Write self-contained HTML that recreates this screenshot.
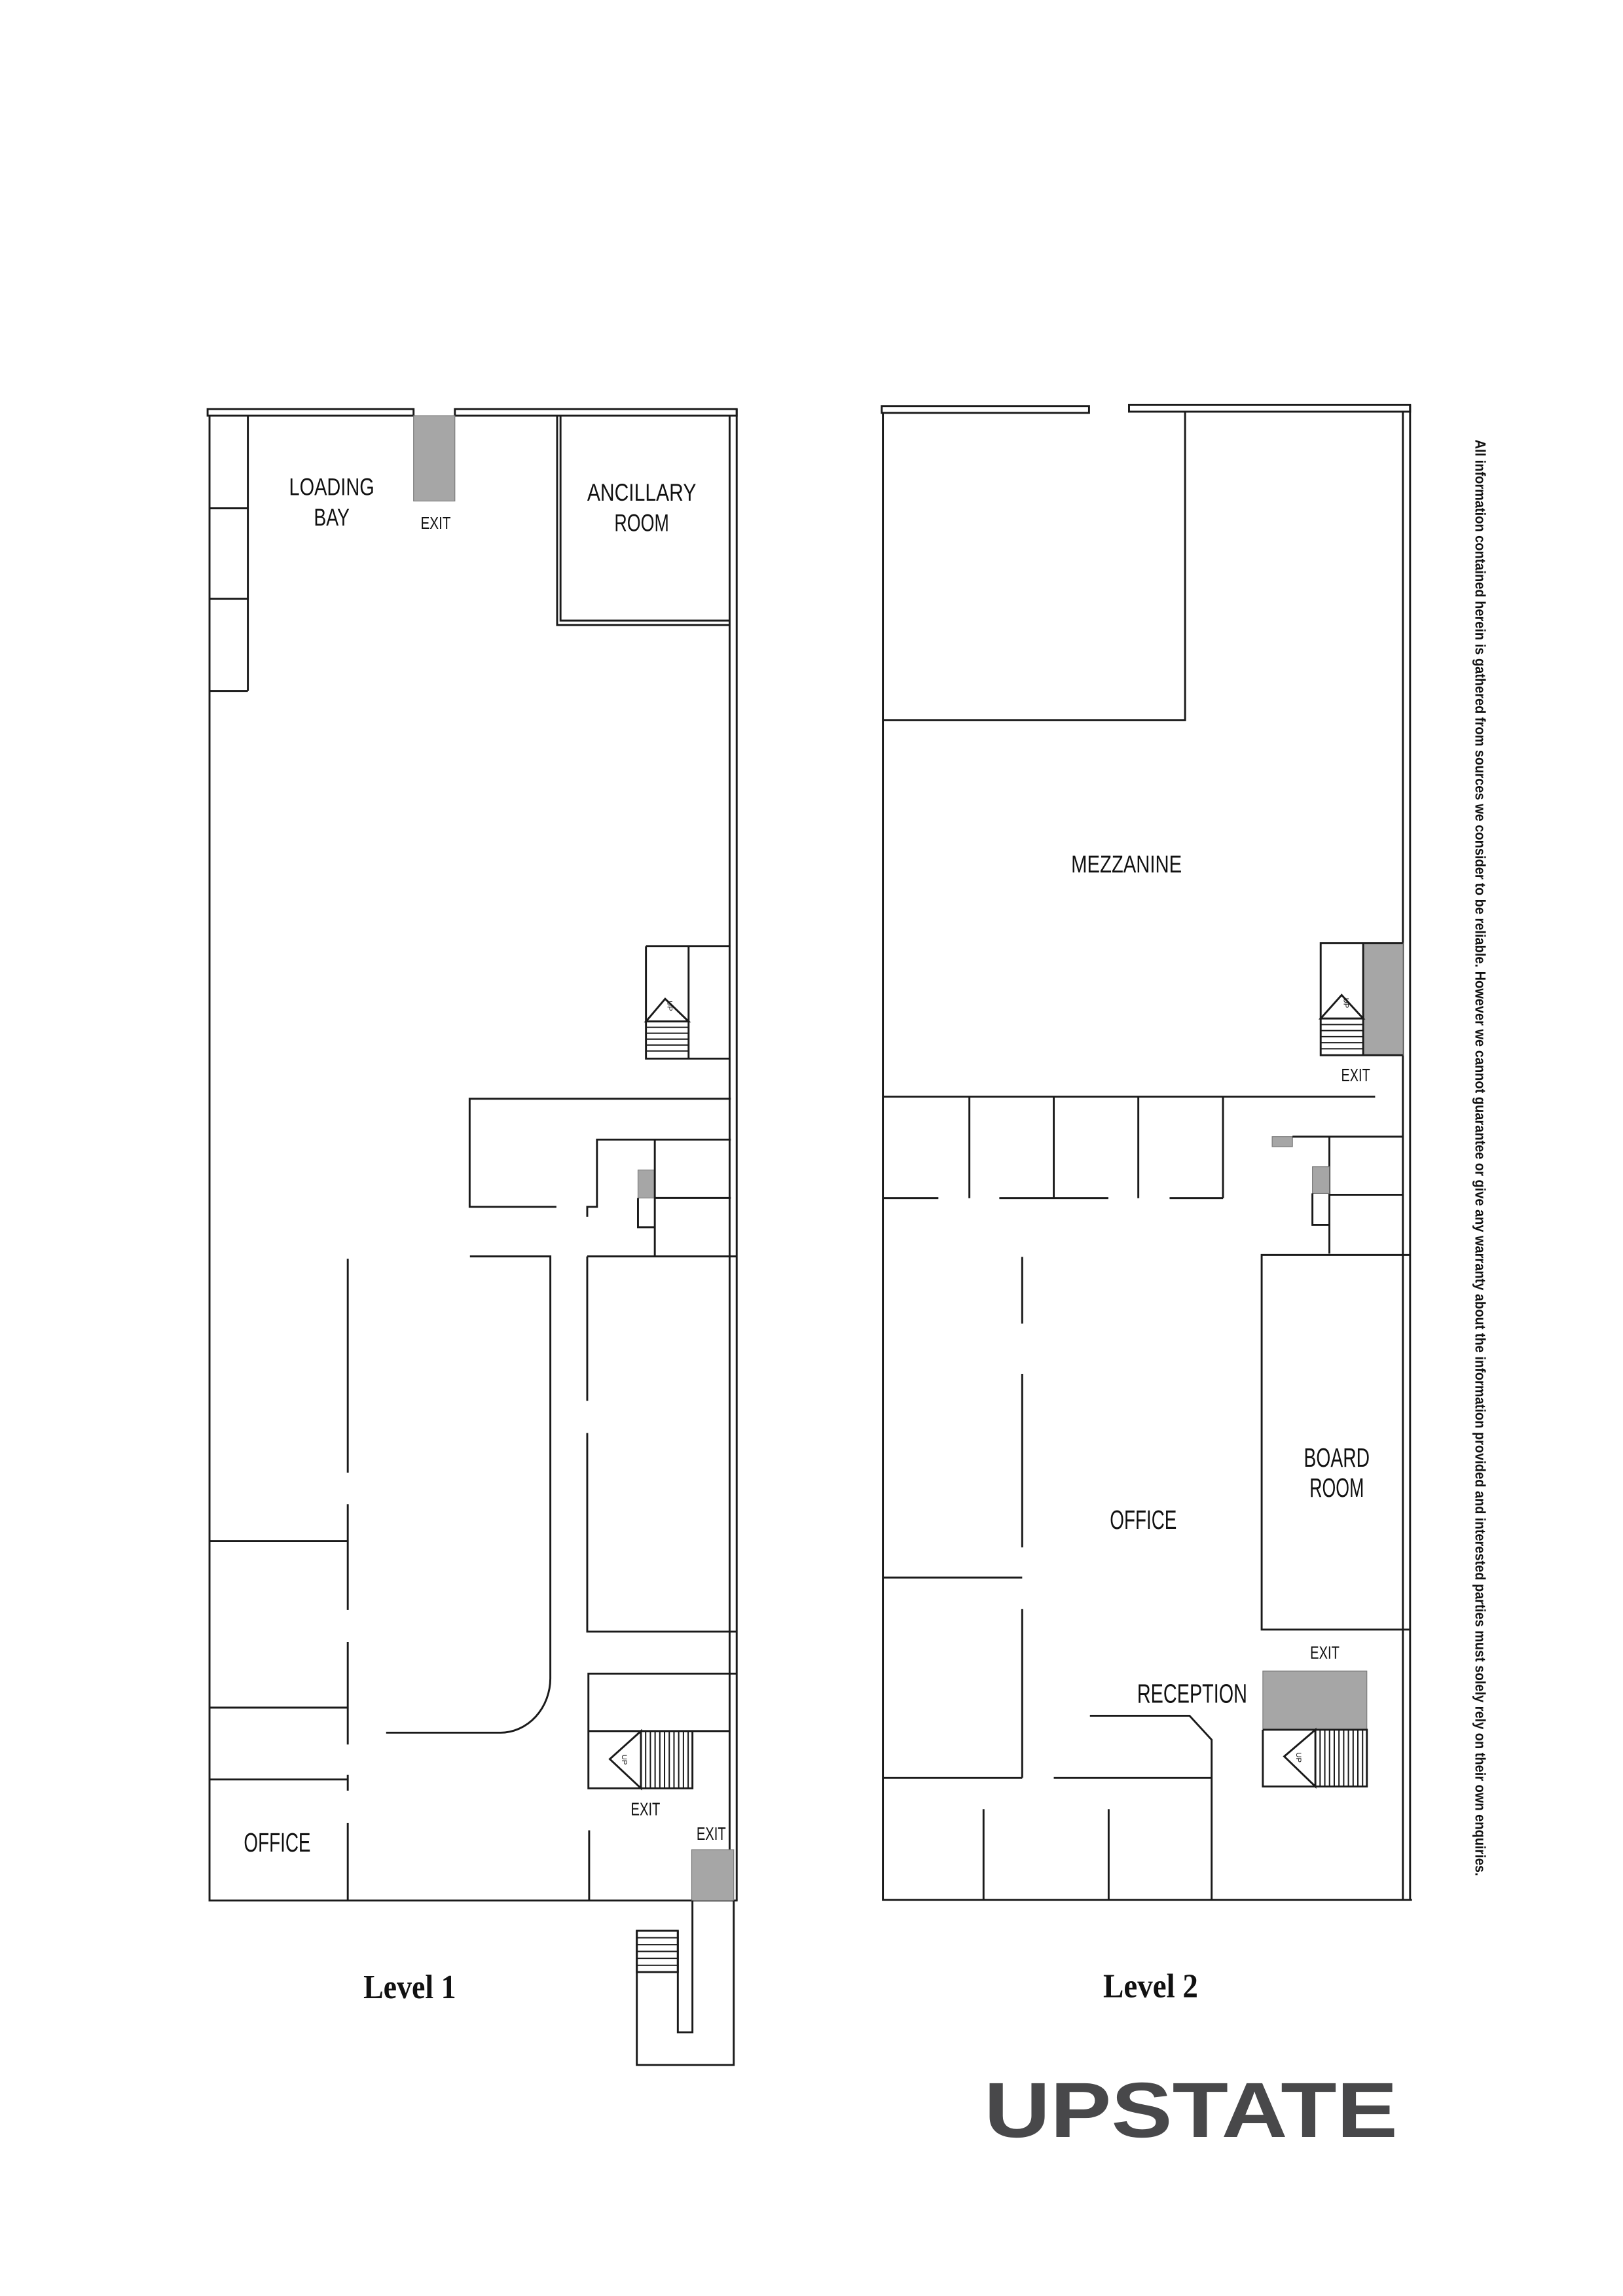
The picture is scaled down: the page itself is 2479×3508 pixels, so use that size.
<!DOCTYPE html>
<html><head><meta charset="utf-8"><style>
html,body{margin:0;padding:0;background:#fff;}
svg{display:block;}
.w{fill:none;stroke:#1a1a1a;stroke-width:1.3;}
.t{stroke:#1a1a1a;stroke-width:0.9;}
.g{fill:#a6a6a6;stroke:#777;stroke-width:0.5;}
.n{font-family:"Liberation Sans Narrow","Liberation Sans",sans-serif;fill:#111;}
.s{font-family:"Liberation Sans",sans-serif;fill:#111;}
.f{font-family:"Liberation Serif",serif;font-weight:bold;fill:#111;}
</style></head><body>
<svg width="2479" height="3508" viewBox="0 0 1100 1556.6" preserveAspectRatio="none" xmlns="http://www.w3.org/2000/svg">
<rect x="0" y="0" width="1100" height="1556.6" fill="#fff"/>

<!-- ================= LEVEL 1 ================= -->
<g>
<rect x="140.7" y="277.3" width="139.6" height="4.5" fill="#f1f1f1" class="w"/>
<rect x="308.3" y="277.3" width="191" height="4.5" fill="#f1f1f1" class="w"/>
<rect x="280.3" y="281.8" width="28" height="57.9" class="g"/>
<path class="w" d="M142 281.8 V1288.5 H499.9"/>
<path class="w" d="M499.3 277.3 V1288.5 M494.5 281.8 V1288.5"/>
<path class="w" d="M168 281.8 V468.4 M142 344.6 H168 M142 406 H168 M142 468.4 H168"/>
<path class="w" d="M377.6 281.8 V423.7 H494.5 M379.9 281.8 V420.7 H494.5"/>
<path class="w" d="M437.8 641.5 H495 M437.8 641.5 V717.7 H495 M466.7 641.5 V717.7"/>
<path class="w" d="M437.8 692.5 L450.8 677.2 L466.7 692.5 Z"/>
<path class="t" d="M437.8 696.5 H466.7 M437.8 700.5 H466.7 M437.8 704.5 H466.7 M437.8 708.5 H466.7 M437.8 712.5 H466.7"/>
<text class="s" font-size="5" transform="translate(452.3 682) rotate(90)" text-anchor="middle">UP</text>
<path class="w" d="M495.3 744.9 H318.3 V818.2 H377.1"/>
<path class="w" d="M495.3 772.6 H404.6 V818.2 H398 V824.9"/>
<rect x="432.4" y="793.2" width="11.4" height="19" class="g"/>
<path class="w" d="M432.4 812.2 V832 H443.8 M443.8 772.6 V851.8 M443.8 812.2 H495.3"/>
<path class="w" d="M398 851.8 H499 M318.5 851.8 H373 V1137.9 A34 37 0 0 1 339.4 1174.7 H261.7"/>
<path class="w" d="M398 851.8 V949.7 M398 971.5 V1106.2 H499"/>
<path class="w" d="M499 1134.7 H398.8 V1212.4 H469.3 V1173.6 M398.8 1173.6 H495"/>
<path class="w" d="M434.4 1173.6 L413.3 1192.6 L434.4 1212.4 Z"/>
<path class="t" d="M437.6 1173.6V1212.4 M440.8 1173.6V1212.4 M444 1173.6V1212.4 M447.2 1173.6V1212.4 M450.4 1173.6V1212.4 M453.6 1173.6V1212.4 M456.8 1173.6V1212.4 M460 1173.6V1212.4 M463.2 1173.6V1212.4 M466.4 1173.6V1212.4"/>
<text class="s" font-size="5" transform="translate(421.5 1193) rotate(90)" text-anchor="middle">UP</text>
<rect x="468.8" y="1254" width="28.5" height="34.5" class="g"/>
<path class="w" d="M399.3 1240.9 V1288.5"/>
<path class="w" d="M235.7 853.4 V998.4 M235.7 1019.8 V1091.5 M235.7 1113.3 V1182.7 M235.7 1203.3 V1214 M235.7 1235.8 V1288.5"/>
<path class="w" d="M142 1044.8 H235.7 M142 1157.7 H235.7 M142 1206.4 H235.7"/>
<path class="w" d="M469.3 1288.5 V1377.8 H459.4 V1309 M431.6 1309 V1400 H497.3 V1288.5"/>
<rect x="431.6" y="1309" width="27.8" height="28" fill="#f0f0f0" class="w"/>
<path class="t" d="M431.6 1313.7H459.4 M431.6 1318.4H459.4 M431.6 1323H459.4 M431.6 1327.7H459.4 M431.6 1332.4H459.4"/>
<text class="n" font-size="16.5" x="224.8" y="335.7" text-anchor="middle" textLength="57.8" lengthAdjust="spacingAndGlyphs">LOADING</text>
<text class="n" font-size="16.5" x="224.8" y="356.4" text-anchor="middle" textLength="24.2" lengthAdjust="spacingAndGlyphs">BAY</text>
<text class="n" font-size="11.5" x="295.3" y="358.6" text-anchor="middle" textLength="20.4" lengthAdjust="spacingAndGlyphs">EXIT</text>
<text class="n" font-size="16.5" x="434.9" y="339.4" text-anchor="middle" textLength="73.9" lengthAdjust="spacingAndGlyphs">ANCILLARY</text>
<text class="n" font-size="16.5" x="434.9" y="360.1" text-anchor="middle" textLength="37" lengthAdjust="spacingAndGlyphs">ROOM</text>
<text class="s" font-size="12.5" x="437.5" y="1230.7" text-anchor="middle" textLength="19.9" lengthAdjust="spacingAndGlyphs">EXIT</text>
<text class="s" font-size="12.5" x="482" y="1247.4" text-anchor="middle" textLength="19.9" lengthAdjust="spacingAndGlyphs">EXIT</text>
<text class="s" font-size="18" x="187.9" y="1255.3" text-anchor="middle" textLength="45.3" lengthAdjust="spacingAndGlyphs">OFFICE</text>
<text class="f" font-size="23" x="246.3" y="1354.6" textLength="62.8" lengthAdjust="spacingAndGlyphs">Level 1</text>
</g>

<!-- ================= LEVEL 2 ================= -->
<g>
<rect x="597.6" y="275.4" width="140.5" height="4.5" fill="#f1f1f1" class="w"/>
<rect x="765.2" y="274.4" width="190.5" height="4.7" fill="#f1f1f1" class="w"/>
<path class="w" d="M598.4 279.9 V1288 H957 M955.7 274.4 V1288 M950.8 279.1 V1288"/>
<path class="w" d="M803.2 279.1 V488.3 H598.4"/>
<rect x="923.9" y="639.3" width="27" height="76.1" class="g"/>
<path class="w" d="M950.8 639.3 H895.1 V715.4 H950.8 M923.9 639.3 V715.4"/>
<path class="w" d="M895.1 690.5 L909.3 674.6 L923.9 690.5 Z"/>
<path class="t" d="M895.1 694.6H923.9 M895.1 698.7H923.9 M895.1 702.8H923.9 M895.1 706.9H923.9 M895.1 711H923.9"/>
<text class="s" font-size="5" transform="translate(910.8 680) rotate(90)" text-anchor="middle">UP</text>
<text class="s" font-size="12.5" x="918.8" y="733" text-anchor="middle" textLength="19.6" lengthAdjust="spacingAndGlyphs">EXIT</text>
<path class="w" d="M598.4 743.5 H932"/>
<path class="w" d="M657 743.5 V812.3 M714.2 743.5 V812.3 M771.5 743.5 V812.3 M828.9 743.5 V812.3"/>
<path class="w" d="M598.4 812.3 H636 M677.3 812.3 H751.2 M792.7 812.3 H828.9"/>
<rect x="862.2" y="770.6" width="13.8" height="6.8" class="g"/>
<path class="w" d="M876 770.6 H950.8 M901 770.6 V849.9 M901 810 H950.8"/>
<rect x="889.5" y="791" width="11.5" height="18.1" class="g"/>
<path class="w" d="M889.5 809.1 V830.4 H901"/>
<path class="w" d="M955.7 850.8 H855.1 V1104.8 H955.7"/>
<path class="w" d="M692.8 852.1 V897.4 M692.8 931.4 V1049.1 M692.8 1090.8 V1205.3"/>
<path class="w" d="M598.4 1069.5 H692.8 M598.4 1205.3 H692.8 M714.2 1205.3 H821.2"/>
<path class="w" d="M738.7 1163.2 H806.2 L821.2 1179.5 V1288"/>
<path class="w" d="M666.6 1226.6 V1288 M751.4 1226.6 V1288"/>
<rect x="855.9" y="1132.9" width="70.5" height="39.8" class="g"/>
<path class="w" d="M855.9 1172.7 V1211.2 H926.4 V1172.7 H855.9"/>
<path class="w" d="M891.5 1172.7 L870.4 1190.8 L891.5 1211.2 Z"/>
<path class="t" d="M894.7 1172.7V1211.2 M897.9 1172.7V1211.2 M901.1 1172.7V1211.2 M904.3 1172.7V1211.2 M907.5 1172.7V1211.2 M910.7 1172.7V1211.2 M913.9 1172.7V1211.2 M917.1 1172.7V1211.2 M920.3 1172.7V1211.2 M923.5 1172.7V1211.2"/>
<text class="s" font-size="5" transform="translate(878.5 1191.5) rotate(90)" text-anchor="middle">UP</text>
<text class="n" font-size="16.5" x="763.5" y="591.5" text-anchor="middle" textLength="75" lengthAdjust="spacingAndGlyphs">MEZZANINE</text>
<text class="s" font-size="18" x="906" y="994.5" text-anchor="middle" textLength="44.6" lengthAdjust="spacingAndGlyphs">BOARD</text>
<text class="s" font-size="18" x="906" y="1014.8" text-anchor="middle" textLength="36.9" lengthAdjust="spacingAndGlyphs">ROOM</text>
<text class="s" font-size="18" x="774.9" y="1036.6" text-anchor="middle" textLength="45.3" lengthAdjust="spacingAndGlyphs">OFFICE</text>
<text class="s" font-size="18" x="808" y="1154.3" text-anchor="middle" textLength="74.6" lengthAdjust="spacingAndGlyphs">RECEPTION</text>
<text class="s" font-size="12.5" x="897.9" y="1124.7" text-anchor="middle" textLength="19.9" lengthAdjust="spacingAndGlyphs">EXIT</text>
<text class="f" font-size="23" x="747.7" y="1354.1" textLength="64.3" lengthAdjust="spacingAndGlyphs">Level 2</text>
</g>

<text class="n" font-size="10" font-weight="bold" transform="translate(1000 298) rotate(90)" textLength="974" lengthAdjust="spacingAndGlyphs">All information contained herein is gathered from sources we consider to be reliable. However we cannot guarantee or give any warranty about the information provided and interested parties must solely rely on their own enquiries.</text>

<text x="667" y="1448.8" font-family="Liberation Sans, sans-serif" font-weight="bold" font-size="53" fill="#48484a" textLength="280.3" lengthAdjust="spacingAndGlyphs">UPSTATE</text>
</svg>
</body></html>
